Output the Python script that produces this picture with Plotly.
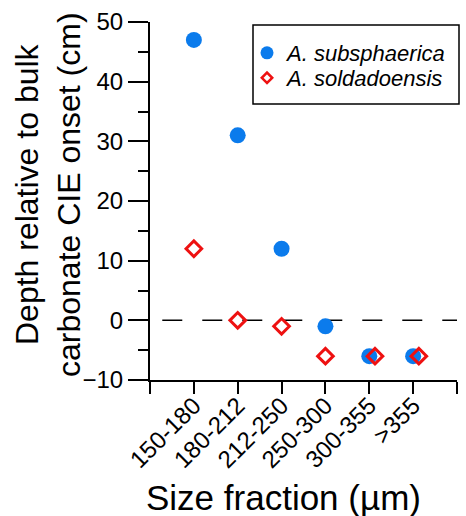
import plotly.graph_objects as go

categories = ["150-180", "180-212", "212-250", "250-300", "300-355", ">355"]
subsphaerica = [47, 31, 12, -1, -6, -6]
soldadoensis = [12, 0, -1, -6, -6, -6]
# small horizontal nudge used in the original to keep overlapping symbols visible
soldadoensis_nudge = [0, 0, 0, 0, 0.13, 0.13]
y_ticks = [-10, 0, 10, 20, 30, 40, 50]
series_names = ["A. subsphaerica", "A. soldadoensis"]

FONT = "Arial, Liberation Sans, Helvetica, sans-serif"
BLUE, RED = "#0b7bec", "#ee1111"
idx = list(range(len(categories)))

L, R, T, B = 150, 457, 22, 380
PW, PH = R - L, B - T
def px(xp):
    return (xp - L) / PW
def py(yp):
    return (B - yp) / PH

fig = go.Figure()
fig.add_trace(go.Scatter(
    x=idx, y=subsphaerica, mode="markers", name=series_names[0], showlegend=False,
    marker=dict(symbol="circle", size=16, color=BLUE, line=dict(width=0)),
))
fig.add_trace(go.Scatter(
    x=[i + d for i, d in zip(idx, soldadoensis_nudge)], y=soldadoensis,
    mode="markers", name=series_names[1], showlegend=False,
    marker=dict(symbol="diamond-open", size=12, color=RED, line=dict(width=3, color=RED)),
))
# legend entries (smaller symbols, as in the original key)
fig.add_trace(go.Scatter(
    x=[None], y=[None], mode="markers", name=series_names[0], legend="legend",
    marker=dict(symbol="circle", size=13, color=BLUE, line=dict(width=0)),
))
fig.add_trace(go.Scatter(
    x=[None], y=[None], mode="markers", name=series_names[1], legend="legend2",
    marker=dict(symbol="diamond-open", size=8, color=RED, line=dict(width=2.5, color=RED)),
))

fig.add_shape(type="line", xref="paper", yref="y", x0=0.04, x1=1, y0=0, y1=0,
              line=dict(color="black", width=1.5, dash="20px,20px"), layer="below")
# legend frame
fig.add_shape(type="rect", xref="paper", yref="paper", x0=px(253), x1=px(459), y0=py(104), y1=py(25),
              line=dict(color="black", width=1.5), fillcolor="white", layer="below")

leg_common = dict(xanchor="left", yanchor="middle", bgcolor="rgba(0,0,0,0)", borderwidth=0,
                  font=dict(family=FONT, size=22, style="italic", color="black"),
                  itemsizing="trace")

fig.update_layout(
    width=466, height=516,
    margin=dict(l=L, r=466 - R, t=T, b=516 - B),
    paper_bgcolor="white", plot_bgcolor="white",
    font=dict(family=FONT, color="black", size=24),
    showlegend=True,
    legend=dict(x=px(247), y=py(53), **leg_common),
    legend2=dict(x=px(247), y=py(78), **leg_common),
    xaxis=dict(
        range=[-1, 6], tickmode="array",
        tickvals=[-1] + idx + [6], ticktext=[""] + categories + [""],
        tickangle=-45, ticks="outside", ticklen=12, tickwidth=2, tickcolor="black",
        showline=True, linewidth=2, linecolor="black", showgrid=False, zeroline=False,
        tickfont=dict(size=24), ticklabelstandoff=-12,
    ),
    yaxis=dict(
        range=[-10, 50], tickmode="array", tickvals=y_ticks,
        ticks="outside", ticklen=20, tickwidth=2, tickcolor="black",
        minor=dict(dtick=5, tick0=0, ticks="outside", ticklen=10, tickwidth=2, tickcolor="black", showgrid=False),
        showline=True, linewidth=2, linecolor="black", showgrid=False, zeroline=False,
        tickfont=dict(size=24),
    ),
    annotations=[
        dict(text="Depth relative to bulk<br>carbonate CIE onset (cm)", textangle=-90,
             xref="paper", yref="paper", x=px(48), y=py(195),
             xanchor="center", yanchor="middle", showarrow=False,
             font=dict(family=FONT, size=32, color="black")),
        dict(text="Size fraction (µm)", xref="paper", yref="paper",
             x=px(283), y=py(497), xanchor="center", yanchor="middle",
             showarrow=False, font=dict(family=FONT, size=35, color="black")),
    ],
)

fig.write_html("out.html", config={"displayModeBar": False},
               post_script="document.body.style.margin='0';document.body.style.padding='0';")
